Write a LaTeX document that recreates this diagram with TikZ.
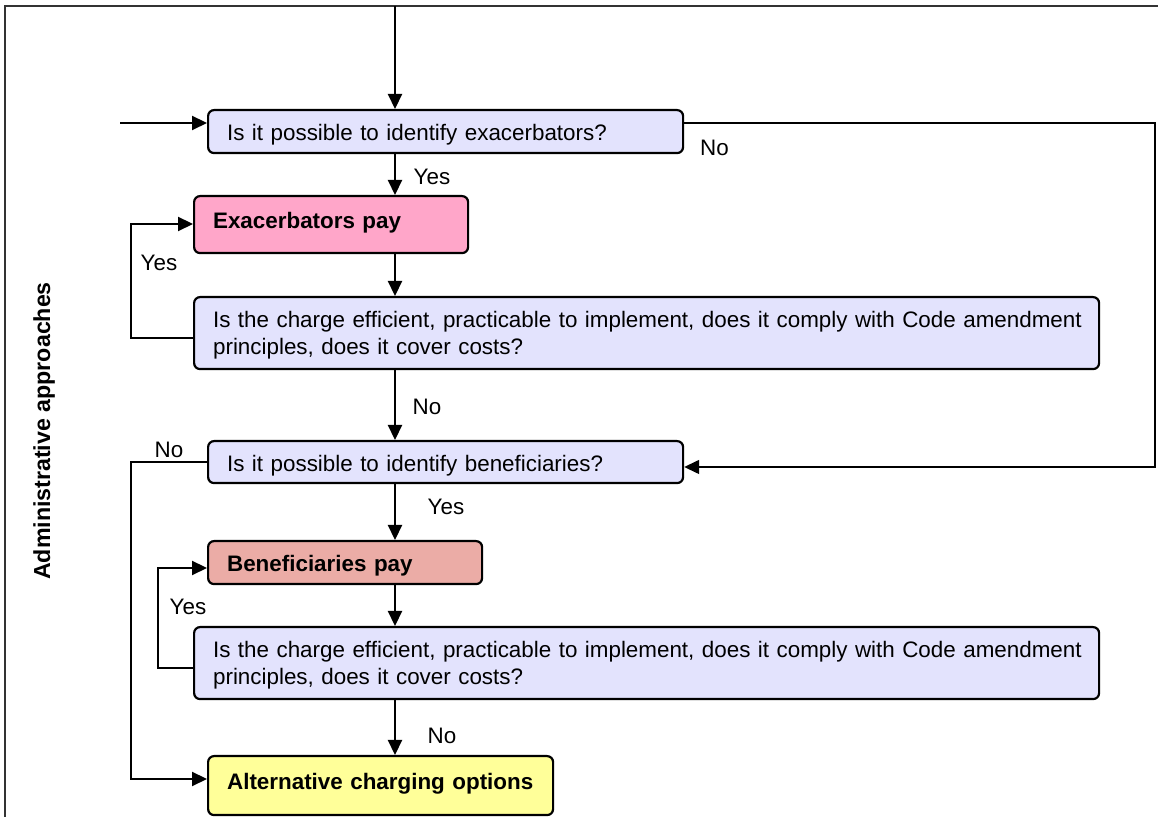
\documentclass[tikz,border=0pt]{standalone}
\usepackage{fontspec}
\setmainfont{Liberation Sans}
\usetikzlibrary{arrows.meta}
\definecolor{qfill}{RGB}{227,227,253}
\definecolor{exfill}{RGB}{255,166,201}
\definecolor{befill}{RGB}{235,172,166}
\definecolor{alfill}{RGB}{255,255,153}
\newcommand{\chartfont}{\fontsize{11.2}{13.5}\selectfont}
\begin{document}
\begin{tikzpicture}[x=0.5pt,y=-0.5pt,
  every node/.style={font=\chartfont},
  box/.style={draw=black, line width=1.1pt, rounded corners=3pt, anchor=north west,
              inner xsep=9.5pt, inner ysep=1pt, align=left},
  qbox/.style={box, fill=qfill},
  arr/.style={line width=1.1pt, -{Triangle[length=7.5pt,width=7pt]}},
  thinarr/.style={line width=0.7pt, -{Triangle[length=7.5pt,width=7pt]}},
  lbl/.style={inner sep=0pt, text height=8.1pt, text depth=0pt},
]
\useasboundingbox (0,0) rectangle (1158,817);

% page frame (left and top edges)
\draw[line width=1pt, black!80] (5,817) -- (5,6) -- (1158,6);

% side title
\node[rotate=90, anchor=base, font=\fontsize{11.6}{13.5}\selectfont\bfseries] (side) at (50,431) {Administrative approaches};

% boxes
\node[qbox, minimum width=237.5pt, minimum height=21.5pt, text width=218.5pt,
      text height=9pt, text depth=0pt] (q1) at (207,109)
      {\mbox{Is it possible to identify exacerbators?}};
\node[box, fill=exfill, minimum width=137pt, minimum height=28.5pt, text width=118pt,
      text height=8.1pt, text depth=4pt, font=\chartfont\bfseries] (exa) at (193,195)
      {\mbox{Exacerbators pay}};
\node[qbox, minimum width=452.5pt, minimum height=36pt, text width=433.5pt] (q2) at (193,296)
      {\rule{0pt}{10.6pt}\mbox{Is the charge efficient, practicable to implement, does it comply with Code amendment}\\
       \mbox{principles, does it cover costs?}};
\node[qbox, minimum width=237.5pt, minimum height=21pt, text width=218.5pt,
      text height=9pt, text depth=0pt] (q3) at (207,440)
      {\mbox{Is it possible to identify beneficiaries?}};
\node[box, fill=befill, minimum width=137pt, minimum height=21.5pt, text width=118pt,
      text height=8.8pt, text depth=0pt, font=\chartfont\bfseries] (ben) at (207,540)
      {\mbox{Beneficiaries pay}};
\node[qbox, minimum width=452.5pt, minimum height=36pt, text width=433.5pt] (q4) at (193,626)
      {\rule{0pt}{10.6pt}\mbox{Is the charge efficient, practicable to implement, does it comply with Code amendment}\\
       \mbox{principles, does it cover costs?}};
\node[box, fill=alfill, minimum width=172.5pt, minimum height=29.5pt, text width=153.5pt,
      text height=8.1pt, text depth=4.5pt, font=\chartfont\bfseries] (alt) at (207,755)
      {\mbox{Alternative charging options}};

% main vertical flow
\coordinate (src) at (395,6);
\draw[arr] (src) -- (src |- q1.north);
\draw[arr] (src |- q1.south) -- (src |- exa.north);
\draw[arr] (src |- exa.south) -- (src |- q2.north);
\draw[arr] (src |- q2.south) -- (src |- q3.north);
\draw[arr] (src |- q3.south) -- (src |- ben.north);
\draw[arr] (src |- ben.south) -- (src |- q4.north);
\draw[arr] (src |- q4.south) -- (src |- alt.north);

% incoming branch
\coordinate (entry) at (120,123);
\draw[arr] (entry) -- (entry -| q1.west);

% no exacerbators: go round to the beneficiaries question
\coordinate (na) at (1155,123);
\coordinate (nb) at (1155,467);
\draw[thinarr] (na -| q1.east) -- (na) -- (nb) -- (nb -| q3.east);

% loop back to exacerbators pay
\coordinate (la) at (131,338);
\coordinate (lb) at (131,224);
\draw[arr] (la -| q2.west) -- (la) -- (lb) -- (lb -| exa.west);

% loop back to beneficiaries pay
\coordinate (lc) at (158,668);
\coordinate (ld) at (158,568);
\draw[arr] (lc -| q4.west) -- (lc) -- (ld) -- (ld -| ben.west);

% no beneficiaries: alternative options
\coordinate (ne) at (131,462);
\coordinate (nf) at (131,779);
\draw[arr] (ne -| q3.west) -- (ne) -- (nf) -- (nf -| alt.west);

% branch labels
\node[lbl] (yes1) at (432,176) {Yes};
\node[lbl] (no1) at (714.5,147) {No};
\node[lbl] (yes2) at (159,262) {Yes};
\node[lbl] (no2) at (427,406) {No};
\node[lbl] (no3) at (169,449.5) {No};
\node[lbl] (yes3) at (446,506) {Yes};
\node[lbl] (yes4) at (188,606.5) {Yes};
\node[lbl] (no4) at (442,735.5) {No};
\end{tikzpicture}
\end{document}
